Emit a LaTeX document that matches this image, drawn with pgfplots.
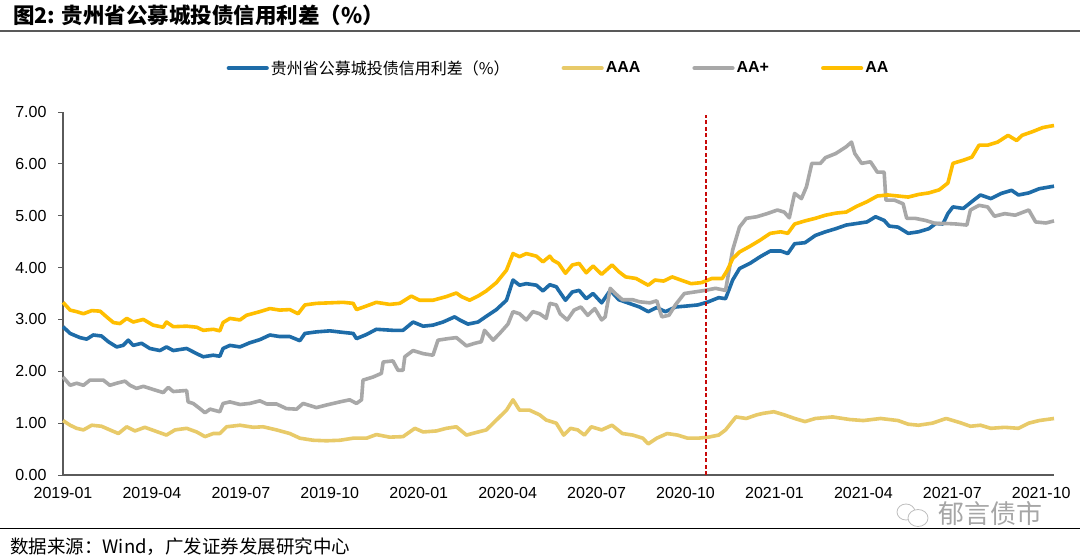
\documentclass[border=0pt]{standalone}
\usepackage{fontspec}
\setmainfont{Liberation Sans}
\newfontfamily\cjk{Noto Sans CJK SC}
\usepackage{pgfplots}
\pgfplotsset{compat=1.18}
\definecolor{cBlue}{RGB}{30,108,168}
\definecolor{cAAA}{RGB}{232,202,105}
\definecolor{cAAp}{RGB}{168,168,168}
\definecolor{cAA}{RGB}{255,190,0}
\definecolor{cRed}{RGB}{200,10,10}
\definecolor{cAxis}{RGB}{90,90,90}
\begin{document}
\begin{tikzpicture}
\path[use as bounding box] (0,0) rectangle (1080bp,-560bp);
\fill[white] (0,0) rectangle (1080bp,-560bp);
\node[anchor=west,inner sep=0pt] at (13bp,-15bp) {\cjk\bfseries\fontsize{21.5bp}{23bp}\selectfont 图2: 贵州省公募城投债信用利差（\%）};
\draw[line width=2.2bp,color=black!65] (0,-31bp) -- (1080bp,-31bp);
\draw[line width=1bp,color=black] (0,-528bp) -- (1080bp,-528bp);
\node[anchor=west,inner sep=0pt] at (10bp,-547bp) {\cjk\fontsize{18.5bp}{20bp}\selectfont 数据来源：Wind，广发证券发展研究中心};
\begin{axis}[
  at={(63bp,-475bp)}, anchor=south west,
  scale only axis, width=991bp, height=363bp,
  xmin=0, xmax=33.43, ymin=0, ymax=7,
  axis x line*=bottom, axis y line*=left,
  axis line style={cAxis, line width=1.3bp, -},
  xtick={0,3,6,9,12,15,18,21,24,27,30,33},
  xticklabels={2019-01,2019-04,2019-07,2019-10,2020-01,2020-04,2020-07,2020-10,2021-01,2021-04,2021-07,2021-10},
  x tick style={draw=none},
  ytick={0,1,2,3,4,5,6,7},
  y tick style={cAxis, line width=1bp},
  tick align=outside, major tick length=5bp,
  yticklabel style={xshift=-8bp, /pgf/number format/fixed, /pgf/number format/fixed zerofill, /pgf/number format/precision=2, /pgf/number format/assume math mode=true},
  xticklabel style={yshift=-4bp, /pgf/number format/assume math mode=true},
  ticklabel style={font=\fontsize{16bp}{19bp}\selectfont, color=black},
  legend columns=4,
  legend style={at={(0.5,1.121)}, anchor=center, draw=none, fill=none,
    font=\fontsize{16bp}{19bp}\selectfont\bfseries,
    /tikz/every even column/.append style={column sep=50bp},
    /tikz/every odd column/.append style={column sep=0bp},
    inner sep=0pt},
  legend image code/.code={\draw[#1, line width=4.2bp, line cap=round] (0bp,0bp) -- (38bp,0bp);},
  every axis plot/.append style={line width=3.6bp, line join=round},
  clip=false,
]
\addplot[cBlue] coordinates {
(0,2.86)(0.24,2.73)(0.57,2.65)(0.80,2.62)(1.02,2.70)(1.30,2.68)(1.53,2.57)(1.81,2.47)(2.03,2.50)(2.20,2.60)
(2.37,2.50)(2.65,2.54)(2.93,2.44)(3.27,2.40)(3.49,2.47)(3.72,2.40)(4.17,2.44)(4.51,2.34)(4.73,2.28)(5.07,2.31)
(5.29,2.29)(5.40,2.44)(5.63,2.50)(5.97,2.47)(6.30,2.55)(6.64,2.61)(6.98,2.70)(7.31,2.67)(7.65,2.67)(7.99,2.59)
(8.16,2.73)(8.55,2.76)(9.00,2.78)(9.45,2.75)(9.79,2.73)(9.90,2.63)(10.24,2.71)(10.57,2.81)(11.13,2.79)(11.47,2.79)
(11.81,2.95)(12.15,2.87)(12.48,2.89)(12.82,2.95)(13.21,3.05)(13.38,2.99)(13.66,2.91)(14.00,2.95)(14.28,3.06)(14.62,3.19)
(14.96,3.37)(15.18,3.76)(15.40,3.66)(15.63,3.69)(15.97,3.66)(16.19,3.55)(16.42,3.67)(16.64,3.63)(16.72,3.56)(16.95,3.37)
(17.18,3.53)(17.41,3.56)(17.65,3.40)(17.88,3.50)(18.17,3.32)(18.46,3.56)(18.75,3.38)(19.10,3.31)(19.45,3.24)(19.74,3.15)
(20.03,3.23)(20.32,3.15)(20.67,3.24)(21.07,3.26)(21.42,3.28)(21.77,3.34)(22.12,3.42)(22.35,3.40)(22.59,3.76)(22.82,3.98)
(23.17,4.08)(23.52,4.21)(23.86,4.32)(24.21,4.32)(24.45,4.27)(24.68,4.46)(25.03,4.48)(25.38,4.62)(25.72,4.69)(26.07,4.75)
(26.42,4.82)(26.77,4.85)(27.12,4.88)(27.41,4.98)(27.70,4.91)(27.87,4.80)(28.17,4.78)(28.51,4.66)(28.86,4.69)(29.21,4.75)
(29.44,4.85)(29.68,4.84)(29.85,5.04)(30.02,5.17)(30.37,5.14)(30.72,5.30)(30.95,5.40)(31.30,5.33)(31.65,5.43)(32.00,5.49)
(32.23,5.40)(32.58,5.44)(32.93,5.52)(33.43,5.57)};
\addlegendentry{\cjk\mdseries 贵州省公募城投债信用利差（\%）}
\addplot[cAAA] coordinates {
(0,1.05)(0.24,0.96)(0.46,0.90)(0.69,0.87)(0.97,0.96)(1.30,0.94)(1.58,0.87)(1.87,0.80)(2.15,0.93)(2.43,0.85)
(2.76,0.92)(3.10,0.85)(3.49,0.77)(3.78,0.87)(4.17,0.90)(4.51,0.83)(4.79,0.74)(5.07,0.80)(5.29,0.80)(5.52,0.93)
(5.97,0.96)(6.42,0.92)(6.75,0.93)(7.20,0.87)(7.65,0.80)(7.99,0.71)(8.44,0.67)(8.89,0.66)(9.34,0.67)(9.79,0.71)
(10.24,0.71)(10.57,0.78)(11.02,0.73)(11.47,0.74)(11.87,0.90)(12.15,0.83)(12.60,0.85)(12.93,0.90)(13.27,0.93)(13.61,0.77)
(13.94,0.82)(14.28,0.87)(14.62,1.06)(14.96,1.25)(15.18,1.45)(15.40,1.25)(15.74,1.25)(16.08,1.16)(16.30,1.06)(16.64,1.00)
(16.89,0.77)(17.12,0.90)(17.36,0.87)(17.59,0.77)(17.82,0.93)(18.17,0.87)(18.52,0.96)(18.87,0.80)(19.22,0.77)(19.56,0.71)
(19.74,0.60)(20.03,0.71)(20.38,0.80)(20.73,0.77)(21.07,0.71)(21.42,0.71)(21.77,0.73)(22.12,0.77)(22.35,0.87)(22.70,1.12)
(23.05,1.09)(23.40,1.16)(23.63,1.19)(23.98,1.22)(24.33,1.16)(24.68,1.09)(25.03,1.03)(25.38,1.09)(25.96,1.12)(26.54,1.07)
(27.00,1.05)(27.58,1.09)(28.17,1.05)(28.51,0.98)(28.86,0.96)(29.33,1.00)(29.79,1.09)(30.26,1.01)(30.61,0.94)(30.95,0.96)
(31.30,0.90)(31.77,0.92)(32.23,0.90)(32.58,1.00)(32.93,1.05)(33.43,1.09)};
\addlegendentry{AAA}
\addplot[cAAp] coordinates {
(0,1.89)(0.24,1.73)(0.46,1.77)(0.69,1.73)(0.91,1.83)(1.36,1.83)(1.58,1.73)(1.81,1.77)(2.09,1.81)(2.26,1.73)
(2.48,1.67)(2.71,1.71)(3.04,1.65)(3.38,1.59)(3.55,1.69)(3.72,1.61)(4.17,1.63)(4.22,1.41)(4.39,1.38)(4.62,1.28)
(4.79,1.20)(4.96,1.27)(5.29,1.22)(5.40,1.38)(5.63,1.41)(5.97,1.36)(6.30,1.38)(6.64,1.43)(6.87,1.37)(7.20,1.37)
(7.54,1.28)(7.88,1.27)(8.10,1.38)(8.55,1.30)(8.89,1.35)(9.34,1.41)(9.67,1.45)(9.90,1.38)(10.07,1.45)(10.12,1.83)
(10.46,1.89)(10.74,1.96)(10.80,2.18)(11.13,2.20)(11.30,2.02)(11.47,2.02)(11.53,2.28)(11.81,2.40)(12.15,2.34)(12.48,2.31)
(12.65,2.60)(12.99,2.63)(13.27,2.65)(13.61,2.49)(13.89,2.54)(14.11,2.57)(14.22,2.79)(14.51,2.60)(14.73,2.73)(15.01,2.91)
(15.18,3.15)(15.40,3.11)(15.63,2.99)(15.85,3.15)(16.08,3.11)(16.30,3.02)(16.42,3.31)(16.64,3.28)(16.77,3.11)(17.01,2.99)
(17.24,3.18)(17.47,3.24)(17.70,3.08)(17.94,3.21)(18.17,2.99)(18.29,3.05)(18.46,3.60)(18.63,3.50)(18.87,3.38)(19.22,3.38)
(19.45,3.34)(19.80,3.32)(20.03,3.36)(20.20,3.05)(20.44,3.08)(20.67,3.29)(20.96,3.50)(21.31,3.53)(21.66,3.56)(22.01,3.60)
(22.35,3.56)(22.59,4.34)(22.82,4.78)(23.05,4.95)(23.40,4.98)(23.75,5.04)(24.10,5.11)(24.33,5.07)(24.50,4.96)(24.68,5.43)
(24.91,5.33)(25.08,5.56)(25.26,6.01)(25.55,6.01)(25.72,6.12)(26.07,6.20)(26.42,6.33)(26.60,6.42)(26.71,6.20)(26.94,6.01)
(27.24,6.04)(27.47,5.84)(27.70,5.84)(27.76,5.30)(28.05,5.30)(28.34,5.23)(28.46,4.95)(28.74,4.95)(29.09,4.91)(29.44,4.85)
(29.79,4.85)(30.14,4.84)(30.49,4.82)(30.61,5.11)(30.90,5.20)(31.19,5.17)(31.42,4.99)(31.77,5.04)(32.12,5.01)(32.58,5.11)
(32.81,4.88)(33.16,4.86)(33.43,4.90)};
\addlegendentry{AA+}
\addplot[cAA] coordinates {
(0,3.33)(0.24,3.18)(0.46,3.15)(0.69,3.11)(0.97,3.17)(1.25,3.16)(1.47,3.05)(1.70,2.94)(1.92,2.92)(2.15,3.02)
(2.37,2.95)(2.71,3.00)(3.04,2.89)(3.38,2.85)(3.49,2.95)(3.72,2.86)(4.17,2.87)(4.51,2.85)(4.73,2.79)(5.07,2.81)
(5.29,2.78)(5.40,2.94)(5.63,3.02)(5.97,2.99)(6.19,3.08)(6.64,3.15)(6.98,3.21)(7.31,3.18)(7.65,3.19)(7.93,3.11)
(8.16,3.28)(8.55,3.31)(9.00,3.32)(9.45,3.33)(9.79,3.31)(9.90,3.19)(10.24,3.26)(10.57,3.33)(11.02,3.29)(11.36,3.31)
(11.75,3.45)(12.03,3.37)(12.48,3.37)(12.93,3.44)(13.27,3.51)(13.44,3.44)(13.72,3.37)(14.00,3.45)(14.28,3.55)(14.62,3.71)
(14.96,3.95)(15.18,4.27)(15.40,4.21)(15.63,4.27)(15.97,4.22)(16.19,4.11)(16.42,4.22)(16.53,4.14)(16.72,4.08)(16.95,3.89)
(17.18,4.05)(17.41,4.08)(17.65,3.90)(17.88,4.03)(18.17,3.87)(18.52,4.05)(18.75,3.92)(18.98,3.82)(19.33,3.79)(19.74,3.66)
(19.97,3.76)(20.26,3.74)(20.55,3.82)(20.84,3.76)(21.19,3.69)(21.54,3.71)(21.89,3.79)(22.24,3.79)(22.41,3.95)(22.59,4.17)
(22.82,4.30)(23.17,4.41)(23.52,4.53)(23.86,4.66)(24.21,4.69)(24.45,4.66)(24.68,4.84)(25.03,4.90)(25.38,4.95)(25.72,5.01)
(26.07,5.05)(26.42,5.07)(26.77,5.18)(27.12,5.27)(27.47,5.38)(27.82,5.40)(28.17,5.38)(28.51,5.36)(28.86,5.41)(29.21,5.44)
(29.56,5.50)(29.85,5.63)(30.02,6.01)(30.37,6.07)(30.66,6.13)(30.90,6.36)(31.19,6.36)(31.53,6.42)(31.88,6.55)(32.17,6.45)
(32.35,6.55)(32.70,6.62)(33.05,6.70)(33.43,6.74)};
\addlegendentry{AA}
\addplot[cRed, line width=1.6bp, dash pattern=on 4bp off 2.5bp, forget plot] coordinates {(21.70,0) (21.70,6.94)};
\end{axis}
\draw[black!25, line width=0.8bp] (906bp,-512bp) ellipse (9bp and 8bp);
\draw[black!25, line width=0.8bp, fill=white] (918bp,-518bp) ellipse (10bp and 8.5bp);
\node[anchor=west,inner sep=0pt] at (938bp,-514bp) {\cjk\fontsize{26bp}{28bp}\selectfont\color{black!35}郁言债市};
\end{tikzpicture}
\end{document}
